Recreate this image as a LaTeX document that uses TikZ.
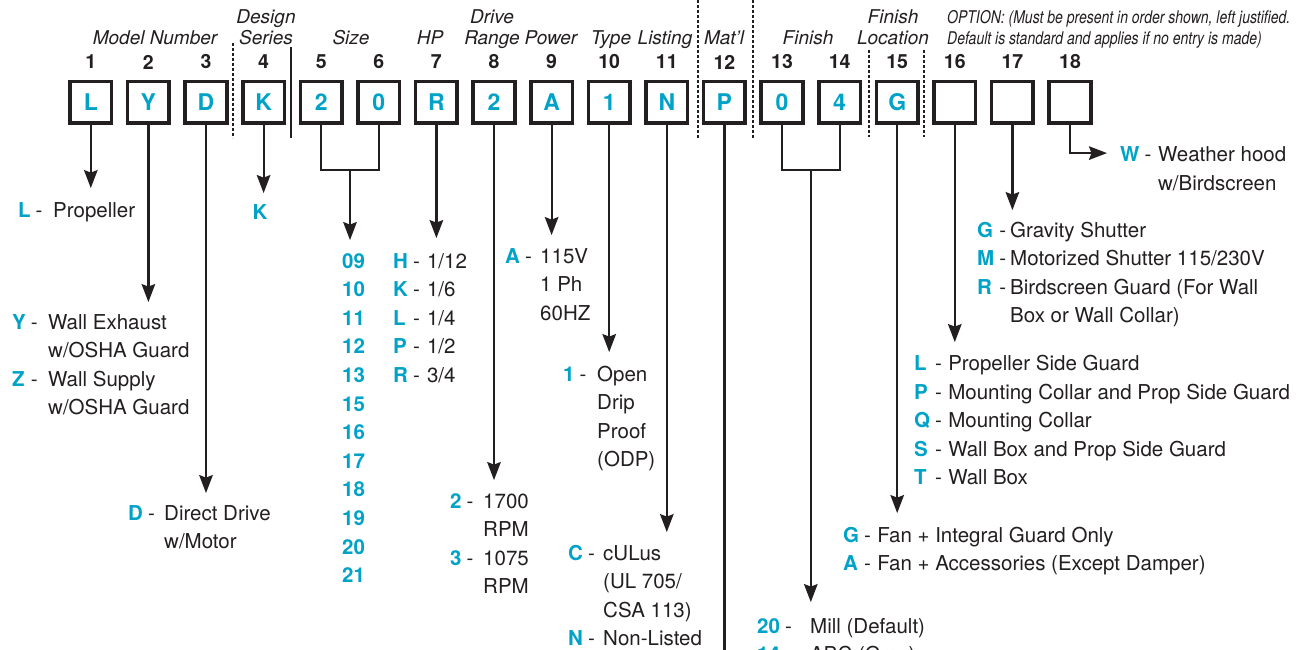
\documentclass[tikz,border=0pt]{standalone}
\usepackage{fontspec}
\setmainfont{TeX Gyre Heros}
\newfontfamily\optionfont{TeX Gyre Heros}[FakeStretch=0.8]
\usepackage{array}
\usetikzlibrary{arrows.meta,calc}

\definecolor{codecyan}{RGB}{0,163,199}
\definecolor{ink}{RGB}{35,31,32}

\newcommand{\legendfont}{\fontsize{20.5}{28.6}\selectfont}
% code / dash / text columns, first column cyan bold; #1 = gap before the text
\newcommand{\legendtab}[2][9pt]{%
  \begin{tabular}[t]{@{}>{\bfseries\color{codecyan}}l@{\hspace{5pt}}l@{\hspace{#1}}l@{}}#2\end{tabular}}
\newcommand{\twoline}[2]{\begin{tabular}[t]{@{}c@{}}#1\\#2\end{tabular}}

\begin{document}
\begin{tikzpicture}[x=1pt,y=-1pt,
  codebox/.style={draw=ink,line width=3.6pt,minimum size=41.6pt,inner sep=0pt,
    font=\fontsize{23}{23}\selectfont\bfseries,text=codecyan},
  numlabel/.style={font=\fontsize{19.5}{20}\selectfont\bfseries,text=ink,inner sep=0pt},
  hdr/.style={font=\fontsize{19}{21.5}\selectfont\itshape,text=ink,inner sep=0pt,anchor=base},
  optnote/.style={font=\optionfont\fontsize{17.5}{21.5}\selectfont\itshape,text=ink,
    inner sep=0pt,anchor=base west},
  legend/.style={font=\legendfont,text=ink,inner sep=0pt,anchor=base west},
  wire/.style={draw=ink,line width=2.2pt},
  arr/.style={wire,-{Stealth[length=18pt,width=13.5pt,inset=2.5pt]}},
  divider/.style={draw=ink,line width=1.2pt,dash pattern=on 3pt off 2pt}]
  \fill[white] (0,0) rectangle (1303,650);
  \useasboundingbox (0,0) rectangle (1303,650);

  % Code boxes and position numbers
  \foreach \code [count=\i] in {L,Y,D,K,2,0,R,2,A,1,N,P,0,4,G,{},{},{}} {
    \pgfmathsetmacro{\bx}{90.8+57.6*(\i-1)}
    \node[codebox] (b\i) at (\bx,102.5) {\code};
    \node[numlabel] (n\i) at (\bx,62) {\i};
  }

  % Field headings
  \node[hdr] (hmodel) at (155,45) {Model Number};
  \node[hdr] (hdesign) at (266,23.5) {\twoline{Design}{Series}};
  \node[hdr] (hsize) at (351,45) {Size};
  \node[hdr] (hhp) at (430,45) {HP};
  \node[hdr] (hdrive) at (492,23.5) {\twoline{Drive}{Range}};
  \node[hdr] (hpower) at (551,45) {Power};
  \node[hdr] (htype) at (611,45) {Type};
  \node[hdr] (hlisting) at (665,45) {Listing};
  \node[hdr] (hmatl) at (724,45) {Mat'l};
  \node[hdr] (hfinish) at (808,45) {Finish};
  \node[hdr] (hlocation) at (893,23.5) {\twoline{Finish}{Location}};
  \node[optnote] (hoption) at (947,23.5) {OPTION: (Must be present in order shown, left justified.};
  \node[optnote] (hdefault) at (947,45) {Default is standard and applies if no entry is made)};

  % Group dividers
  \draw[divider] (233,43) -- (233,138);
  \draw[ink,line width=1.2pt] (291,47) -- (291,138);
  \draw[divider] (698,0) -- (698,138);
  \draw[divider] (753,0) -- (753,138);
  \draw[divider] (869,50) -- (869,137);
  \draw[divider] (924,50) -- (924,137);

  % Connectors
  \draw[arr] (b1.south) -- ++(0,63) coordinate (tip1);
  \draw[arr] (b2.south) -- ++(0,177) coordinate (tip2);
  \draw[arr] (b3.south) -- ++(0,368) coordinate (tip3);
  \draw[arr] (b4.south) -- ++(0,68) coordinate (tip4);
  \coordinate (sizejoin) at ($(b5.south)!0.5!(b6.south)+(0,45)$);
  \draw[wire] (b5.south) |- (sizejoin) -| (b6.south);
  \draw[arr] (sizejoin) -- ++(0,70) coordinate (tipsize);
  \draw[arr] (b7.south) -- ++(0,113) coordinate (tip7);
  \draw[arr] (b8.south) -- ++(0,355) coordinate (tip8);
  \draw[arr] (b9.south) -- ++(0,110) coordinate (tip9);
  \draw[arr] (b10.south) -- ++(0,227) coordinate (tip10);
  \draw[arr] (b11.south) -- ++(0,407) coordinate (tip11);
  \draw[wire] (b12.south) -- ++(0,540) coordinate (end12);
  \coordinate (finishjoin) at ($(b13.south)!0.5!(b14.south)+(0,45)$);
  \draw[wire] (b13.south) |- (finishjoin) -| (b14.south);
  \draw[arr] (finishjoin) -- ++(0,432) coordinate (tipfinish);
  \draw[arr] (b15.south) -- ++(0,388) coordinate (tip15);
  \draw[arr] (b16.south) -- ++(0,217) coordinate (tip16);
  \draw[arr] (b17.south) -- ++(0,85) coordinate (tip17);
  \draw[arr] (b18.south) |- ++(37,28) coordinate (tip18);

  % Legends
  \node[legend] (leg1) at (18,217.5) {\legendtab[10.7pt]{L & - & Propeller}};
  \node[legend] (leg2) at (12,329) {\legendtab[10.5pt]{Y & - & Wall Exhaust\\ & & w/OSHA Guard\\
    Z & - & Wall Supply\\ & & w/OSHA Guard}};
  \node[legend] (leg3) at (128,520) {\legendtab[9.4pt]{D & - & Direct Drive\\ & & w/Motor}};
  \node[legend,anchor=base,text=codecyan,font=\legendfont\bfseries] (leg4) at (260,219) {K};
  \node[legend] (leg5) at (342,268) {\begin{tabular}[t]{@{}>{\bfseries\color{codecyan}}l@{}}
    09\\10\\11\\12\\13\\15\\16\\17\\18\\19\\20\\21\end{tabular}};
  \node[legend] (leg7) at (393,268) {\legendtab[7.2pt]{H & - & 1/12\\ K & - & 1/6\\
    L & - & 1/4\\ P & - & 1/2\\ R & - & 3/4}};
  \node[legend] (leg8) at (450,508) {\legendtab[9.8pt]{2 & - & 1700\\ & & RPM\\
    3 & - & 1075\\ & & RPM}};
  \node[legend] (leg9) at (505,263) {\legendtab[8.4pt]{A & - & 115V\\ & & 1 Ph\\ & & 60HZ}};
  \node[legend] (leg10) at (563,381) {\legendtab[10.8pt]{1 & - & Open\\ & & Drip\\
    & & Proof\\ & & (ODP)}};
  \node[legend] (leg11) at (568,560) {\legendtab[8.4pt]{C & - & cULus\\ & & (UL 705/\\
    & & CSA 113)\\ N & - & Non-Listed}};
  \node[legend] (leg13) at (757,633) {\legendtab[18.4pt]{20 & - & Mill (Default)\\
    14 & - & ABC (Gray)}};
  \node[legend] (leg15) at (843,542) {\legendtab[6.3pt]{G & - & Fan + Integral Guard Only\\
    A & - & Fan + Accessories (Except Damper)}};
  \node[legend] (leg16) at (914,370.5) {\legendtab[6.3pt]{L & - & Propeller Side Guard\\
    P & - & Mounting Collar and Prop Side Guard\\ Q & - & Mounting Collar\\
    S & - & Wall Box and Prop Side Guard\\ T & - & Wall Box}};
  \node[legend] (leg17) at (977,237) {\legendtab[4.1pt]{G & - & Gravity Shutter\\
    M & - & Motorized Shutter 115/230V\\ R & - & Birdscreen Guard (For Wall\\
    & & Box or Wall Collar)}};
  \node[legend] (leg18) at (1120,161.5) {\legendtab[6.8pt]{W & - & Weather hood\\ & & w/Birdscreen}};
\end{tikzpicture}
\end{document}
